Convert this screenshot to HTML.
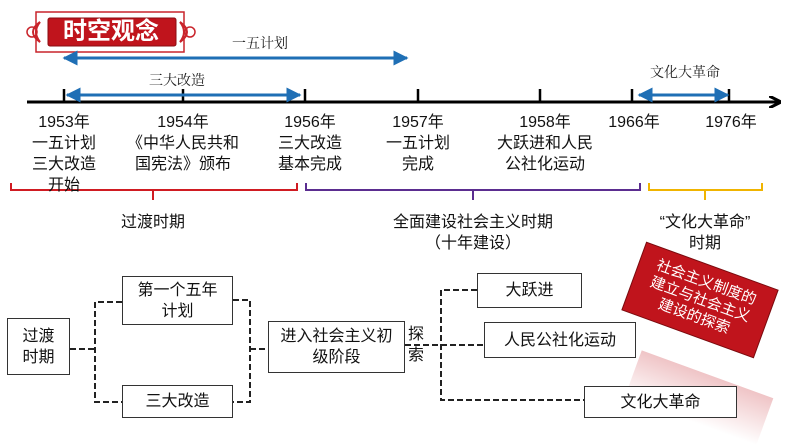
<!DOCTYPE html>
<html><head><meta charset="utf-8"><style>
body{margin:0;width:794px;height:447px;background:#fff;position:relative;overflow:hidden;font-family:"Liberation Sans","Noto Sans CJK SC",sans-serif;color:#111}
.t{position:absolute;white-space:nowrap;text-align:center;transform:translateX(-50%);font-size:16px;line-height:21px}
.b{position:absolute;border:1.5px solid #333;background:#fff;display:flex;align-items:center;justify-content:center;text-align:center;font-size:16px;line-height:21px;box-sizing:border-box}
.s{font-family:"Noto Serif CJK SC",serif;font-size:14px;color:#222}
</style></head><body>
<svg width="794" height="447" style="position:absolute;left:0;top:0">
<defs>
<marker id="a" viewBox="0 0 10 10" refX="9" refY="5" markerWidth="5" markerHeight="5" orient="auto-start-reverse"><path d="M0,0L10,5L0,10z" fill="#1f6fb5"/></marker>
<marker id="k" viewBox="0 0 10 10" refX="9" refY="5" markerWidth="4" markerHeight="4" orient="auto"><path d="M0,0L10,5L0,10" fill="none" stroke="#000" stroke-width="2.5"/></marker>
<linearGradient id="g" x1="0" y1="0" x2="0" y2="1"><stop offset="0" stop-color="#c0141c" stop-opacity="0.25"/><stop offset="1" stop-color="#c0141c" stop-opacity="0"/></linearGradient>
</defs>
<rect x="36" y="12" width="148" height="40" fill="#fff" stroke="#c9242b" stroke-width="1.5"/>
<rect x="48" y="18" width="128" height="28" fill="#c0141c" stroke="#8a0d12" rx="2"/>
<path d="M40,22 q-14,10 0,20 q-8,-10 0,-20z M180,22 q14,10 0,20 q8,-10 0,-20z" fill="none" stroke="#c9242b" stroke-width="2"/>
<circle cx="32" cy="32" r="5" fill="none" stroke="#c9242b" stroke-width="1.5"/>
<circle cx="190" cy="32" r="5" fill="none" stroke="#c9242b" stroke-width="1.5"/>
<line x1="27" y1="102" x2="780" y2="102" stroke="#000" stroke-width="3" marker-end="url(#k)"/>
<g stroke="#000" stroke-width="2.5">
<line x1="64" y1="89" x2="64" y2="102"/><line x1="183" y1="89" x2="183" y2="102"/><line x1="305" y1="89" x2="305" y2="102"/><line x1="418" y1="89" x2="418" y2="102"/><line x1="540" y1="89" x2="540" y2="102"/><line x1="632" y1="89" x2="632" y2="102"/><line x1="729" y1="89" x2="729" y2="102"/>
</g>
<g stroke="#1f6fb5" stroke-width="3">
<line x1="64" y1="58" x2="407" y2="58" marker-start="url(#a)" marker-end="url(#a)"/>
<line x1="67" y1="95" x2="300" y2="95" marker-start="url(#a)" marker-end="url(#a)"/>
<line x1="639" y1="95" x2="728" y2="95" marker-start="url(#a)" marker-end="url(#a)"/>
</g>
<path d="M11,183V190H297V183 M153,190V200" fill="none" stroke="#d01b22" stroke-width="2"/>
<path d="M306,183V190H640V183 M473,190V200" fill="none" stroke="#5b2d90" stroke-width="2"/>
<path d="M649,183V190H762V183 M705,190V200" fill="none" stroke="#f0b400" stroke-width="2"/>
<g fill="none" stroke="#222" stroke-width="2" stroke-dasharray="6,3">
<path d="M70,349H95 M122,302H95V402H122"/>
<path d="M233,300H250V402H233 M250,349H268"/>
<path d="M405,345H484 M477,290H441V400H584"/>
</g>
<g transform="translate(700,300) rotate(20)">
<rect x="-70" y="-36" width="140" height="72" fill="#c0141c" stroke="#7a0a0e"/>
<text x="0" y="-14" fill="#fff" font-size="15" text-anchor="middle" font-family="Noto Sans CJK SC,sans-serif">社会主义制度的</text>
<text x="0" y="4" fill="#fff" font-size="15" text-anchor="middle" font-family="Noto Sans CJK SC,sans-serif">建立与社会主义</text>
<text x="0" y="22" fill="#fff" font-size="15" text-anchor="middle" font-family="Noto Sans CJK SC,sans-serif">建设的探索</text>
</g>
<g transform="translate(700,395) rotate(20)">
<rect x="-70" y="-22" width="140" height="50" fill="url(#g)"/>
</g>
</svg>
<div class="t" style="left:111px;top:18px;color:#fff;font-size:24px;line-height:28px;font-weight:bold">时空观念</div>
<div class="t s" style="left:260px;top:33px">一五计划</div>
<div class="t s" style="left:177px;top:70px">三大改造</div>
<div class="t s" style="left:685px;top:62px">文化大革命</div>
<div class="t" style="left:64px;top:112px">1953年<br>一五计划<br>三大改造<br>开始</div>
<div class="t" style="left:183px;top:112px">1954年<br>《中华人民共和<br>国宪法》颁布</div>
<div class="t" style="left:310px;top:112px">1956年<br>三大改造<br>基本完成</div>
<div class="t" style="left:418px;top:112px">1957年<br>一五计划<br>完成</div>
<div class="t" style="left:545px;top:112px">1958年<br>大跃进和人民<br>公社化运动</div>
<div class="t" style="left:634px;top:112px">1966年</div>
<div class="t" style="left:731px;top:112px">1976年</div>
<div class="t" style="left:153px;top:212px">过渡时期</div>
<div class="t" style="left:473px;top:212px">全面建设社会主义时期<br>（十年建设）</div>
<div class="t" style="left:705px;top:212px">“文化大革命”<br>时期</div>
<div class="b" style="left:7px;top:318px;width:63px;height:57px">过渡<br>时期</div>
<div class="b" style="left:122px;top:276px;width:111px;height:49px">第一个五年<br>计划</div>
<div class="b" style="left:122px;top:385px;width:111px;height:33px">三大改造</div>
<div class="b" style="left:268px;top:321px;width:137px;height:52px">进入社会主义初<br>级阶段</div>
<div class="t" style="left:416px;top:324px">探<br>索</div>
<div class="b" style="left:477px;top:273px;width:105px;height:35px">大跃进</div>
<div class="b" style="left:484px;top:322px;width:152px;height:36px">人民公社化运动</div>
<div class="b" style="left:584px;top:386px;width:153px;height:32px">文化大革命</div>
</body></html>
